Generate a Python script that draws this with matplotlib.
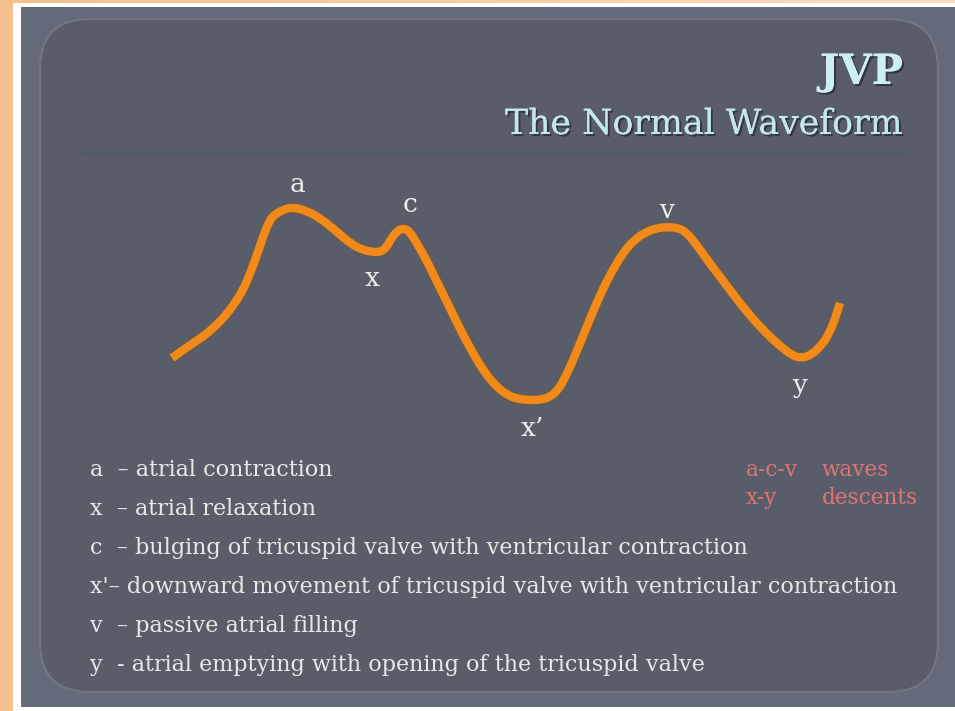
import numpy as np
import matplotlib
matplotlib.use("Agg")
import matplotlib.pyplot as plt
from matplotlib.patches import FancyBboxPatch, Rectangle, PathPatch
from matplotlib.path import Path
from matplotlib.colors import LinearSegmentedColormap
import matplotlib.patheffects as pe

# ---- data ----
wave_x = [172, 190, 204, 220, 233, 243, 250, 258, 264, 269, 273, 282, 293, 307, 320,
          336, 351, 363, 373, 380, 386, 391, 397, 404, 410, 416,
          426, 436, 449, 462, 474, 485, 496, 507, 518, 529, 540, 550, 558, 565,
          574, 583, 592, 601, 612, 623, 634, 646, 657, 668, 678, 686, 696, 708,
          724, 739, 753, 766, 780, 793, 802, 811, 821, 829, 835, 840]
wave_y = [358, 345, 336, 322, 306, 290, 274, 252, 234, 222, 216, 210, 207, 211, 218,
          231, 244, 250, 252, 252, 248, 239, 231, 228, 232, 242,
          259, 280, 306, 333, 355, 373, 386, 395, 399, 400, 400, 397, 390, 378,
          358, 336, 314, 293, 271, 253, 240, 232, 228, 227, 228, 232, 244, 261,
          282, 302, 319, 333, 346, 356, 358, 355, 346, 334, 319, 303]
peak_labels = ["a", "x", "c", "x\u2019", "v", "y"]
peak_label_x = [297, 372, 410, 532, 667, 800]
peak_label_y = [185, 278, 204, 428, 211, 386]
legend_lines = [
    "a  \u2013 atrial contraction",
    "x  \u2013 atrial relaxation",
    "c  \u2013 bulging of tricuspid valve with ventricular contraction",
    "x'\u2013 downward movement of tricuspid valve with ventricular contraction",
    "v  \u2013 passive atrial filling",
    "y  - atrial emptying with opening of the tricuspid valve",
]
key_left = ["a-c-v", "x-y"]
key_right = ["waves", "descents"]
title = "JVP"
subtitle = "The Normal Waveform"

W, H = 955, 711
fig = plt.figure(figsize=(W / 100, H / 100), dpi=100)
ax = fig.add_axes([0, 0, 1, 1])
ax.set_xlim(0, W)
ax.set_ylim(H, 0)
ax.axis("off")

# background: peach strip + white frame + grey slide
grad = np.linspace(0, 1, 256).reshape(1, -1)
peach = LinearSegmentedColormap.from_list("p", ["#f5bf8e", "#fbdcbc"])
ax.imshow(grad, extent=[0, W, H, 0], cmap=peach, aspect="auto", zorder=0)
ax.add_patch(Rectangle((13, 3), W - 13, H - 3, facecolor="white", edgecolor="none", zorder=1))
ax.add_patch(Rectangle((21, 7), W - 21, 700, facecolor="#646a79", edgecolor="none", zorder=2))
ax.add_patch(FancyBboxPatch((40 + 50, 19 + 50), 898 - 100, 673 - 100,
                            boxstyle="round,pad=50", facecolor="#595d69",
                            edgecolor="#707684", linewidth=1.5, zorder=3))

font = "DejaVu Serif"
shadow = [pe.withSimplePatchShadow(offset=(1.5, -1.5), shadow_rgbFace="#2a2d35", alpha=0.8),
          pe.Normal()]

ax.text(903, 72, title, ha="right", va="center", fontsize=30, fontweight="bold",
        family=font, color="#cdeef5", zorder=10, path_effects=shadow)
ax.text(903, 124, subtitle, ha="right", va="center", fontsize=25,
        family=font, color="#c6e6ee", zorder=10, path_effects=shadow)
ax.plot([83, 903], [153, 153], color="#4b5b68", lw=2, zorder=5)

# smooth waveform: quadratic B-spline through the read points
pts = np.column_stack([wave_x, wave_y]).astype(float)
verts = [pts[0]]
codes = [Path.MOVETO]
for i in range(1, len(pts) - 1):
    mid = (pts[i] + pts[i + 1]) / 2
    verts += [pts[i], mid]
    codes += [Path.CURVE3, Path.CURVE3]
verts.append(pts[-1])
codes.append(Path.LINETO)
wave_path = Path(verts, codes)
ax.add_patch(PathPatch(wave_path, facecolor="none", edgecolor="#f28a1a", lw=6,
                       capstyle="butt", joinstyle="round", zorder=8,
                       path_effects=[pe.Stroke(linewidth=8.5, foreground="#6d5a48", alpha=0.55),
                                     pe.Normal()]))

for lab, lx, ly in zip(peak_labels, peak_label_x, peak_label_y):
    ax.text(lx, ly, lab, ha="center", va="center", fontsize=19, family=font,
            color="#ececec", zorder=10)

y0, dy = 470, 39
for i, line in enumerate(legend_lines):
    ax.text(90, y0 + i * dy, line, ha="left", va="center", fontsize=16,
            family=font, color="#e8e8e8", zorder=10)

for i, (l, r) in enumerate(zip(key_left, key_right)):
    ax.text(746, 470 + i * 28, l, ha="left", va="center", fontsize=15.5,
            family=font, color="#e07474", zorder=10)
    ax.text(822, 470 + i * 28, r, ha="left", va="center", fontsize=15.5,
            family=font, color="#e07474", zorder=10)

fig.savefig("out.png", dpi=100)
